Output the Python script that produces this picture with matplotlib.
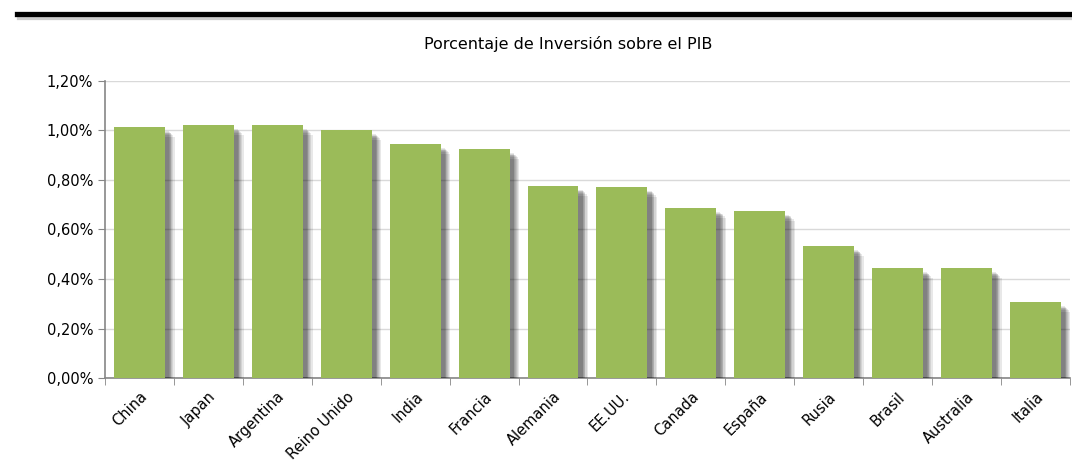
import numpy as np
import matplotlib.pyplot as plt
import matplotlib.patheffects as pe
from matplotlib.lines import Line2D
from matplotlib.ticker import FuncFormatter

# Data
paises = ["China", "Japan", "Argentina", "Reino Unido", "India", "Francia", "Alemania",
          "EE.UU.", "Canada", "España", "Rusia", "Brasil", "Australia", "Italia"]
inversion = [1.014, 1.022, 1.022, 1.002, 0.945, 0.925, 0.776,
             0.772, 0.687, 0.675, 0.533, 0.444, 0.444, 0.307]
yticks = [0.0, 0.2, 0.4, 0.6, 0.8, 1.0, 1.2]

plt.rcParams["font.family"] = ["DejaVu Sans"]

fig = plt.figure(figsize=(10.72, 4.73), dpi=100)
ax = fig.add_axes([0.098, 0.2008, 0.9, 0.628])

x = np.arange(len(paises))

# soft drop shadow made of several offset copies
shadow = [pe.SimplePatchShadow(offset=(d, -d), shadow_rgbFace="black", alpha=0.09)
          for d in (7, 6, 5, 4.5, 4, 3.5, 3)]
ax.bar(x, inversion, width=0.74, color="#9BBB59", zorder=3,
       path_effects=shadow + [pe.Normal()])

ax.set_xlim(-0.5, len(paises) - 0.5)
ax.set_ylim(0, 1.2)
ax.set_yticks(yticks)
ax.yaxis.set_major_formatter(FuncFormatter(lambda v, p: f"{v:.2f}%".replace(".", ",")))
ax.grid(axis="y", color="#D9D9D9", linewidth=1, zorder=0)
ax.set_axisbelow(True)

ax.set_xticks(x)
ax.set_xticklabels(paises, rotation=45, ha="right", va="top", rotation_mode="anchor",
                   fontsize=10.5)
ax.set_xticks(np.arange(-0.5, len(paises)), minor=True)
ax.tick_params(axis="x", which="major", length=0, pad=8)
ax.tick_params(axis="x", which="minor", length=5, color="#868686", direction="out")
ax.tick_params(axis="y", length=5, color="#868686", labelsize=10.5)

for s in ["top", "right"]:
    ax.spines[s].set_visible(False)
for s in ["left", "bottom"]:
    ax.spines[s].set_color("#868686")
    ax.spines[s].set_linewidth(1.2)

fig.text(0.53, 0.907, "Porcentaje de Inversión sobre el PIB", ha="center", va="center",
         fontsize=11.5)

# thick rule at the top
fig.add_artist(Line2D([0.016, 1.0], [0.970, 0.970], color="black", linewidth=3.8,
                      path_effects=[pe.SimpleLineShadow(offset=(1, -2), alpha=0.2), pe.Normal()]))

fig.savefig("out.png", dpi=100)
